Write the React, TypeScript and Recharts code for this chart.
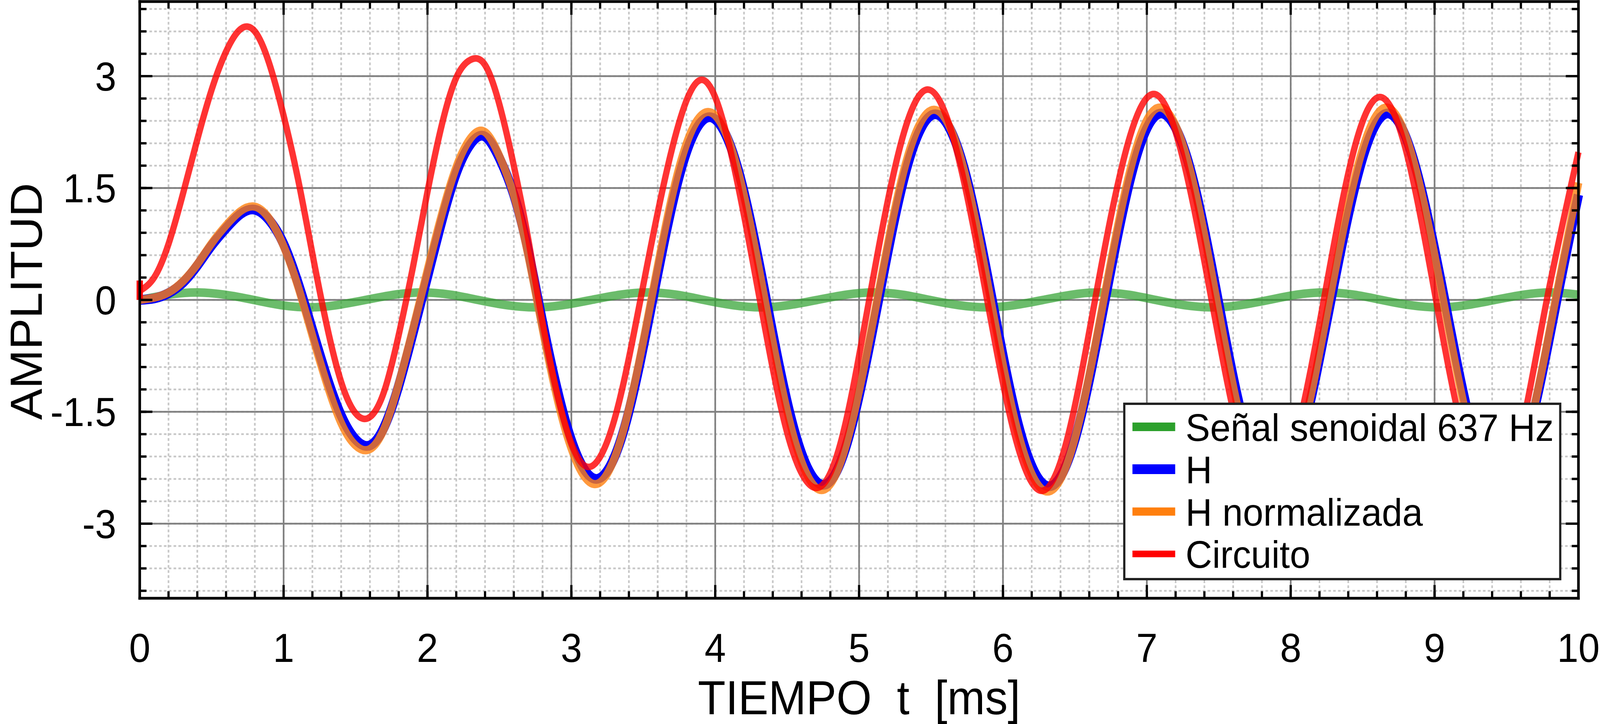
import React from 'react';
import { LineChart, Line, XAxis, YAxis, CartesianGrid, Legend } from 'recharts';

type Pt = [number, number];

const FONT = '"Liberation Sans", Arial, Helvetica, sans-serif';
const W = 4305;
const H = 1854;

// ---------- tick values ----------
const xMajorTicks = [0, 1, 2, 3, 4, 5, 6, 7, 8, 9, 10];
const xMinorTicks = [
  0, 0.2, 0.4, 0.6, 0.8, 1, 1.2, 1.4, 1.6, 1.8, 2, 2.2, 2.4, 2.6, 2.8, 3, 3.2, 3.4, 3.6, 3.8,
  4, 4.2, 4.4, 4.6, 4.8, 5, 5.2, 5.4, 5.6, 5.8, 6, 6.2, 6.4, 6.6, 6.8, 7, 7.2, 7.4, 7.6, 7.8,
  8, 8.2, 8.4, 8.6, 8.8, 9, 9.2, 9.4, 9.6, 9.8, 10,
];
const yMajorTicks = [-3, -1.5, 0, 1.5, 3];
const yMinorTicks = [
  -3.9, -3.6, -3.3, -3, -2.7, -2.4, -2.1, -1.8, -1.5, -1.2, -0.9, -0.6, -0.3, 0,
  0.3, 0.6, 0.9, 1.2, 1.5, 1.8, 2.1, 2.4, 2.7, 3, 3.3, 3.6, 3.9,
];

// ---------- labels ----------
const xLabelText = 'TIEMPO  t  [ms]';
const yLabelText = 'AMPLITUD';
const seriesNames = ['Señal senoidal 637 Hz', 'H', 'H normalizada', 'Circuito'];

// ---------- series: [t (ms), amplitude] ----------
const senal: Pt[] = [
  [0, 0], [0.2, 0.07], [0.39, 0.1], [0.59, 0.07], [0.79, 0], [0.98, -0.07], [1.18, -0.1], [1.37, -0.07],
  [1.57, 0], [1.77, 0.07], [1.96, 0.1], [2.16, 0.07], [2.35, 0], [2.55, -0.07], [2.75, -0.1], [2.94, -0.07],
  [3.14, 0], [3.34, 0.07], [3.53, 0.1], [3.73, 0.07], [3.92, 0], [4.12, -0.07], [4.32, -0.1], [4.51, -0.07],
  [4.71, 0], [4.91, 0.07], [5.1, 0.1], [5.3, 0.07], [5.49, 0], [5.69, -0.07], [5.89, -0.1], [6.08, -0.07],
  [6.28, 0], [6.48, 0.07], [6.67, 0.1], [6.87, 0.07], [7.06, 0], [7.26, -0.07], [7.46, -0.1], [7.65, -0.07],
  [7.85, 0], [8.04, 0.07], [8.24, 0.1], [8.44, 0.07], [8.63, 0], [8.83, -0.07], [9.03, -0.1], [9.22, -0.07],
  [9.42, 0], [9.62, 0.07], [9.81, 0.1], [10, 0.07],
];

const hSeries: Pt[] = [
  [0, 0], [0.1, 0.02], [0.2, 0.09], [0.3, 0.23], [0.4, 0.46], [0.5, 0.73], [0.6, 0.96], [0.7, 1.15],
  [0.8, 1.21], [0.9, 1.07], [1.0, 0.75], [1.1, 0.23], [1.2, -0.4], [1.3, -1.03], [1.4, -1.55],
  [1.5, -1.87], [1.6, -1.95], [1.7, -1.7], [1.8, -1.15], [1.9, -0.44], [2.0, 0.31], [2.1, 1.06],
  [2.2, 1.7], [2.3, 2.09], [2.4, 2.19], [2.5, 1.9], [2.6, 1.41], [2.7, 0.66], [2.8, -0.3],
  [2.97, -1.7], [3.17, -2.4], [3.37, -1.71], [3.565, 0], [3.76, 1.73], [3.96, 2.45], [4.16, 1.74],
  [4.355, 0], [4.55, -1.75], [4.75, -2.48], [4.94, -1.76], [5.135, 0], [5.33, 1.76], [5.53, 2.49],
  [5.73, 1.76], [5.925, 0], [6.12, -1.77], [6.32, -2.5], [6.515, -1.77], [6.71, 0], [6.905, 1.77],
  [7.1, 2.5], [7.3, 1.77], [7.495, 0], [7.69, -1.77], [7.89, -2.5], [8.085, -1.77], [8.28, 0],
  [8.48, 1.77], [8.675, 2.5], [8.87, 1.77], [9.07, 0], [9.265, -1.77], [9.46, -2.5], [9.655, -1.77],
  [9.85, 0], [10, 1.41],
];

const hNormalizada: Pt[] = [
  [0, 0], [0.1, 0.03], [0.2, 0.1], [0.3, 0.25], [0.4, 0.48], [0.5, 0.76], [0.6, 1.0], [0.7, 1.19],
  [0.8, 1.25], [0.9, 1.09], [1.0, 0.72], [1.1, 0.18], [1.2, -0.48], [1.3, -1.12], [1.4, -1.65],
  [1.5, -1.95], [1.6, -2.0], [1.7, -1.72], [1.8, -1.12], [1.9, -0.38], [2.0, 0.4], [2.1, 1.15],
  [2.2, 1.78], [2.3, 2.17], [2.4, 2.25], [2.5, 1.93], [2.6, 1.4], [2.7, 0.6], [2.8, -0.39],
  [2.96, -1.75], [3.16, -2.47], [3.36, -1.76], [3.555, 0], [3.75, 1.78], [3.95, 2.52], [4.15, 1.79],
  [4.345, 0], [4.54, -1.8], [4.74, -2.55], [4.93, -1.8], [5.125, 0], [5.32, 1.8], [5.52, 2.55],
  [5.72, 1.81], [5.915, 0], [6.11, -1.82], [6.31, -2.57], [6.505, -1.82], [6.7, 0], [6.895, 1.82],
  [7.09, 2.58], [7.29, 1.82], [7.485, 0], [7.68, -1.82], [7.88, -2.58], [8.075, -1.82], [8.27, 0],
  [8.47, 1.82], [8.665, 2.58], [8.86, 1.82], [9.06, 0], [9.255, -1.82], [9.45, -2.58], [9.645, -1.82],
  [9.84, 0], [10, 1.57],
];

const circuito: Pt[] = [
  [0, 0.12], [0.1, 0.3], [0.2, 0.75], [0.3, 1.42], [0.4, 2.15], [0.5, 2.82], [0.6, 3.33], [0.7, 3.63],
  [0.8, 3.6], [0.9, 3.17], [1.0, 2.47], [1.1, 1.62], [1.2, 0.62], [1.3, -0.34], [1.4, -1.1],
  [1.5, -1.52], [1.6, -1.57], [1.7, -1.22], [1.8, -0.47], [1.9, 0.45], [2.0, 1.45], [2.1, 2.35],
  [2.2, 2.98], [2.3, 3.22], [2.4, 3.15], [2.5, 2.62], [2.6, 1.8], [2.7, 0.82], [2.8, -0.3],
  [2.95, -1.62], [3.12, -2.24], [3.3, -1.6], [3.48, 0], [3.69, 1.95], [3.9, 2.95], [4.1, 2.05],
  [4.31, 0], [4.51, -1.85], [4.71, -2.52], [4.89, -1.78], [5.07, 0], [5.275, 1.98], [5.48, 2.82],
  [5.685, 1.95], [5.89, 0], [6.08, -1.8], [6.27, -2.56], [6.455, -1.8], [6.64, 0], [6.845, 1.93],
  [7.05, 2.76], [7.25, 1.9], [7.45, 0], [7.645, -1.84], [7.84, -2.6], [8.035, -1.84], [8.23, 0],
  [8.425, 1.9], [8.62, 2.72], [8.815, 1.9], [9.01, 0], [9.205, -1.85], [9.4, -2.62], [9.59, -1.85],
  [9.78, 0], [10, 1.98],
];

// short vertical start segment of the circuit trace at t = 0
const circuitoInicio: Pt[] = [[0, 0], [0, 0.26]];

const toRows = (pts: Pt[]) => pts.map(([t, v]) => ({ t, v }));

// ---------- styles ----------
const seriesStyle: Record<string, { color: string; width: number; opacity: number }> = {
  'Señal senoidal 637 Hz': { color: '#2ca02c', width: 22, opacity: 0.7 },
  H: { color: '#0000ff', width: 25, opacity: 1 },
  'H normalizada': { color: '#ff7f0e', width: 21, opacity: 0.8 },
  Circuito: { color: '#ff0000', width: 17, opacity: 0.8 },
};

const tickLineStyle = { stroke: '#000', strokeWidth: 6 };
const axisLineStyle = { stroke: '#000', strokeWidth: 7, strokeLinecap: 'square' as const };
const tickTextStyle = { fill: '#000', fontSize: 103, fontFamily: FONT };

const NoLabel = () => <g />;

const renderXLabel = (props: any) => {
  const vb = props.viewBox || { x: 0, y: 0, width: 0, height: 0 };
  return (
    <text
      x={vb.x + vb.width / 2}
      y={vb.y + 297}
      textAnchor="middle"
      fontSize={122}
      fontFamily={FONT}
      fill="#000"
      style={{ whiteSpace: 'pre' }}
    >
      {xLabelText}
    </text>
  );
};

const renderYLabel = (props: any) => {
  const vb = props.viewBox || { x: 0, y: 0, width: 0, height: 0 };
  const cx = vb.x + 112;
  const cy = vb.y + vb.height / 2 + 4;
  return (
    <text
      x={cx}
      y={cy}
      transform={`rotate(-90 ${cx} ${cy})`}
      textAnchor="middle"
      fontSize={120}
      fontFamily={FONT}
      fill="#000"
    >
      {yLabelText}
    </text>
  );
};

const LegendBox = (props: any) => {
  const payload: any[] = props.payload || [];
  const items = seriesNames
    .map((name) => payload.find((p) => p.value === name))
    .filter(Boolean);
  return (
    <div
      style={{
        width: 1179,
        height: 455,
        boxSizing: 'border-box',
        border: '6px solid #222',
        background: '#fff',
      }}
    >
      <svg width={1167} height={443} style={{ display: 'block' }}>
        {items.map((it: any, i: number) => {
          const cy = 56 + i * 108.5;
          const st = seriesStyle[it.value];
          return (
            <g key={it.value}>
              <line x1={19} x2={134} y1={cy} y2={cy} stroke={it.color} strokeWidth={st.width} />
              <text x={162} y={cy + 36} fontSize={99} fontFamily={FONT} fill="#000">
                {it.value}
              </text>
            </g>
          );
        })}
      </svg>
    </div>
  );
};

export default function App() {
  const s = seriesStyle;
  // fit the drawing into the actual viewport width (the window may be narrower than asked)
  const vw =
    typeof window !== 'undefined'
      ? document.documentElement.clientWidth || window.innerWidth || W
      : W;
  const sx = Math.min(1, vw / W);

  const line = (pts: Pt[], name: string) => (
    <Line
      data={toRows(pts)}
      dataKey="v"
      name={name}
      type="natural"
      stroke={s[name].color}
      strokeWidth={s[name].width}
      strokeOpacity={s[name].opacity}
      strokeLinejoin="round"
      dot={false}
      activeDot={false}
      isAnimationActive={false}
    />
  );
  const tickAxisX = (id: string, ticks: number[], orientation: 'top' | 'bottom', size: number, withLine: boolean) => (
    <XAxis xAxisId={id} dataKey="t" type="number" domain={[0, 10]} allowDataOverflow ticks={ticks} interval={0}
      orientation={orientation} mirror height={1} tickSize={size} tickLine={tickLineStyle} tick={NoLabel}
      axisLine={withLine ? axisLineStyle : false} />
  );
  const tickAxisY = (id: string, ticks: number[], orientation: 'left' | 'right', size: number, withLine: boolean) => (
    <YAxis yAxisId={id} type="number" domain={[-4, 4]} allowDataOverflow ticks={ticks} interval={0}
      orientation={orientation} mirror width={1} tickSize={size} tickLine={tickLineStyle} tick={NoLabel}
      axisLine={withLine ? axisLineStyle : false} />
  );

  return (
    <div style={{ position: 'absolute', left: 0, top: 0, width: Math.floor(W * sx), height: H, overflow: 'hidden', background: '#fff' }}>
      <div style={{ width: W, height: H, transform: `scaleX(${sx})`, transformOrigin: '0 0' }}>
        <LineChart
          width={W}
          height={H}
          margin={{ top: 4, right: 58, bottom: 0, left: 0 }}
          style={{ fontFamily: FONT }}
        >
          <CartesianGrid
            xAxisId="xbMin"
            yAxisId="ylMin"
            stroke="#c8c8c8"
            strokeWidth={4.5}
            strokeDasharray="7 6"
          />
          <CartesianGrid stroke="#808080" strokeWidth={4.5} />

          {/* main axes with labels */}
          <XAxis
            xAxisId={0}
            dataKey="t"
            type="number"
            domain={[0, 10]}
            ticks={xMajorTicks}
            interval={0}
            height={322}
            tickSize={0}
            tickMargin={90}
            tickLine={false}
            axisLine={axisLineStyle}
            tick={tickTextStyle}
            label={renderXLabel}
          />
          <YAxis
            yAxisId={0}
            type="number"
            domain={[-4, 4]}
            ticks={yMajorTicks}
            interval={0}
            width={376}
            tickSize={0}
            tickMargin={63}
            tickLine={false}
            axisLine={axisLineStyle}
            tick={tickTextStyle}
            tickFormatter={(v: number) => String(v)}
            label={renderYLabel}
          />

          {/* inward tick marks on all four sides */}
          {tickAxisX('xbMaj', xMajorTicks, 'bottom', 34, false)}
          {tickAxisX('xbMin', xMinorTicks, 'bottom', 17, false)}
          {tickAxisX('xtMaj', xMajorTicks, 'top', 34, true)}
          {tickAxisX('xtMin', xMinorTicks, 'top', 17, false)}
          {tickAxisY('ylMaj', yMajorTicks, 'left', 34, false)}
          {tickAxisY('ylMin', yMinorTicks, 'left', 17, false)}
          {tickAxisY('yrMaj', yMajorTicks, 'right', 34, true)}
          {tickAxisY('yrMin', yMinorTicks, 'right', 17, false)}

          {line(senal, seriesNames[0])}
          {line(hSeries, seriesNames[1])}
          {line(hNormalizada, seriesNames[2])}
          {line(circuito, seriesNames[3])}
          <Line
            data={toRows(circuitoInicio)}
            dataKey="v"
            name="Circuito inicio"
            type="linear"
            stroke="#ff0000"
            strokeWidth={17}
            legendType="none"
            dot={false}
            activeDot={false}
            isAnimationActive={false}
          />

          <Legend
            layout="horizontal"
            verticalAlign="middle"
            align="center"
            wrapperStyle={{ left: 3022, top: 1031, width: 1179, height: 455, right: 'auto', bottom: 'auto' }}
            content={LegendBox}
          />
        </LineChart>
      </div>
    </div>
  );
}
